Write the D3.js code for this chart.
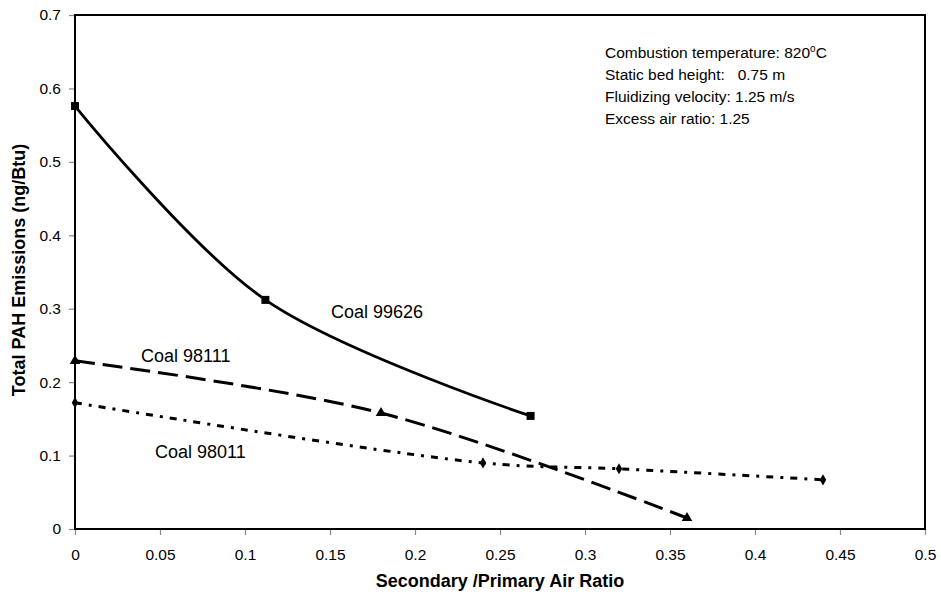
<!DOCTYPE html>
<html><head><meta charset="utf-8">
<script src="https://cdn.jsdelivr.net/npm/d3@7"></script>
<style>body{margin:0;background:#fff}svg{display:block}text{font-family:"Liberation Sans",Arial,sans-serif}</style>
</head><body>
<svg id="c" width="941" height="597"></svg>
<script>
const xTicks=[0,0.05,0.1,0.15,0.2,0.25,0.3,0.35,0.4,0.45,0.5];
const yTicks=[0,0.1,0.2,0.3,0.4,0.5,0.6,0.7];
const coal99626=[[0,0.576],[0.112,0.312],[0.268,0.154]];
const coal98111=[[0,0.229],[0.18,0.158],[0.36,0.015]];
const coal98011=[[0,0.172],[0.24,0.090],[0.32,0.082],[0.44,0.067]];
const notes=["Combustion temperature: 820","Static bed height:   0.75 m","Fluidizing velocity: 1.25 m/s","Excess air ratio: 1.25"];

const svg=d3.select("#c");
const L=75,R=925,T=15,B=529;
const x=d3.scaleLinear().domain([0,0.5]).range([L,R]);
const y=d3.scaleLinear().domain([0,0.7]).range([B,T]);

const ya=svg.append("g").attr("transform",`translate(${L},0)`).call(d3.axisLeft(y).tickValues(yTicks).tickSize(6).tickPadding(8).tickFormat(d3.format("~g")));
const xa=svg.append("g").attr("transform",`translate(0,${B})`).call(d3.axisBottom(x).tickValues(xTicks).tickSize(6).tickPadding(14).tickFormat(d3.format("~g")));
[ya,xa].forEach(a=>{a.select(".domain").remove();a.selectAll(".tick line").attr("stroke","#888").attr("stroke-width",1.2);a.selectAll("text").attr("font-size",15.5).attr("fill","#000");});
svg.append("rect").attr("x",L).attr("y",T).attr("width",R-L).attr("height",B-T).attr("fill","none").attr("stroke","#000").attr("stroke-width",2);

const line=d3.line().x(d=>x(d[0])).y(d=>y(d[1])).curve(d3.curveCatmullRom.alpha(0.5));
svg.append("path").datum(coal99626).attr("d",line).attr("fill","none").attr("stroke","#000").attr("stroke-width",2.8);
svg.append("path").datum(coal98111).attr("d",line).attr("fill","none").attr("stroke","#000").attr("stroke-width",3).attr("stroke-dasharray","20,8");
svg.append("path").datum(coal98011).attr("d",line).attr("fill","none").attr("stroke","#000").attr("stroke-width",3).attr("stroke-dasharray","7,7,3,7");

svg.selectAll(".sq").data(coal99626).join("rect").attr("x",d=>x(d[0])-4).attr("y",d=>y(d[1])-4).attr("width",8).attr("height",8).attr("fill","#000");
svg.selectAll(".tri").data(coal98111).join("path").attr("d",d3.symbol(d3.symbolTriangle,48)).attr("transform",d=>`translate(${x(d[0])},${y(d[1])})`).attr("fill","#000");
svg.selectAll(".dia").data(coal98011).join("path").attr("d",d3.symbol(d3.symbolDiamond,36)).attr("transform",d=>`translate(${x(d[0])},${y(d[1])})`).attr("fill","#000");

svg.append("text").attr("x",331).attr("y",318).attr("font-size",18).text("Coal 99626");
svg.append("text").attr("x",141).attr("y",362).attr("font-size",18).text("Coal 98111");
svg.append("text").attr("x",155).attr("y",458).attr("font-size",18).text("Coal 98011");

notes.forEach((n,i)=>{
  const t=svg.append("text").attr("x",605).attr("y",58+i*22).attr("font-size",15.5).style("white-space","pre").attr("xml:space","preserve").text(n);
  if(i===0){t.append("tspan").attr("dy",-6).attr("font-size",10).text("o");t.append("tspan").attr("dy",6).text("C");}
});

svg.append("text").attr("x",500).attr("y",587).attr("text-anchor","middle").attr("font-size",18).attr("font-weight","bold").text("Secondary /Primary Air Ratio");
svg.append("text").attr("transform","translate(25,270) rotate(-90)").attr("text-anchor","middle").attr("font-size",18).attr("font-weight","bold").text("Total PAH Emissions (ng/Btu)");
</script>
</body></html>
